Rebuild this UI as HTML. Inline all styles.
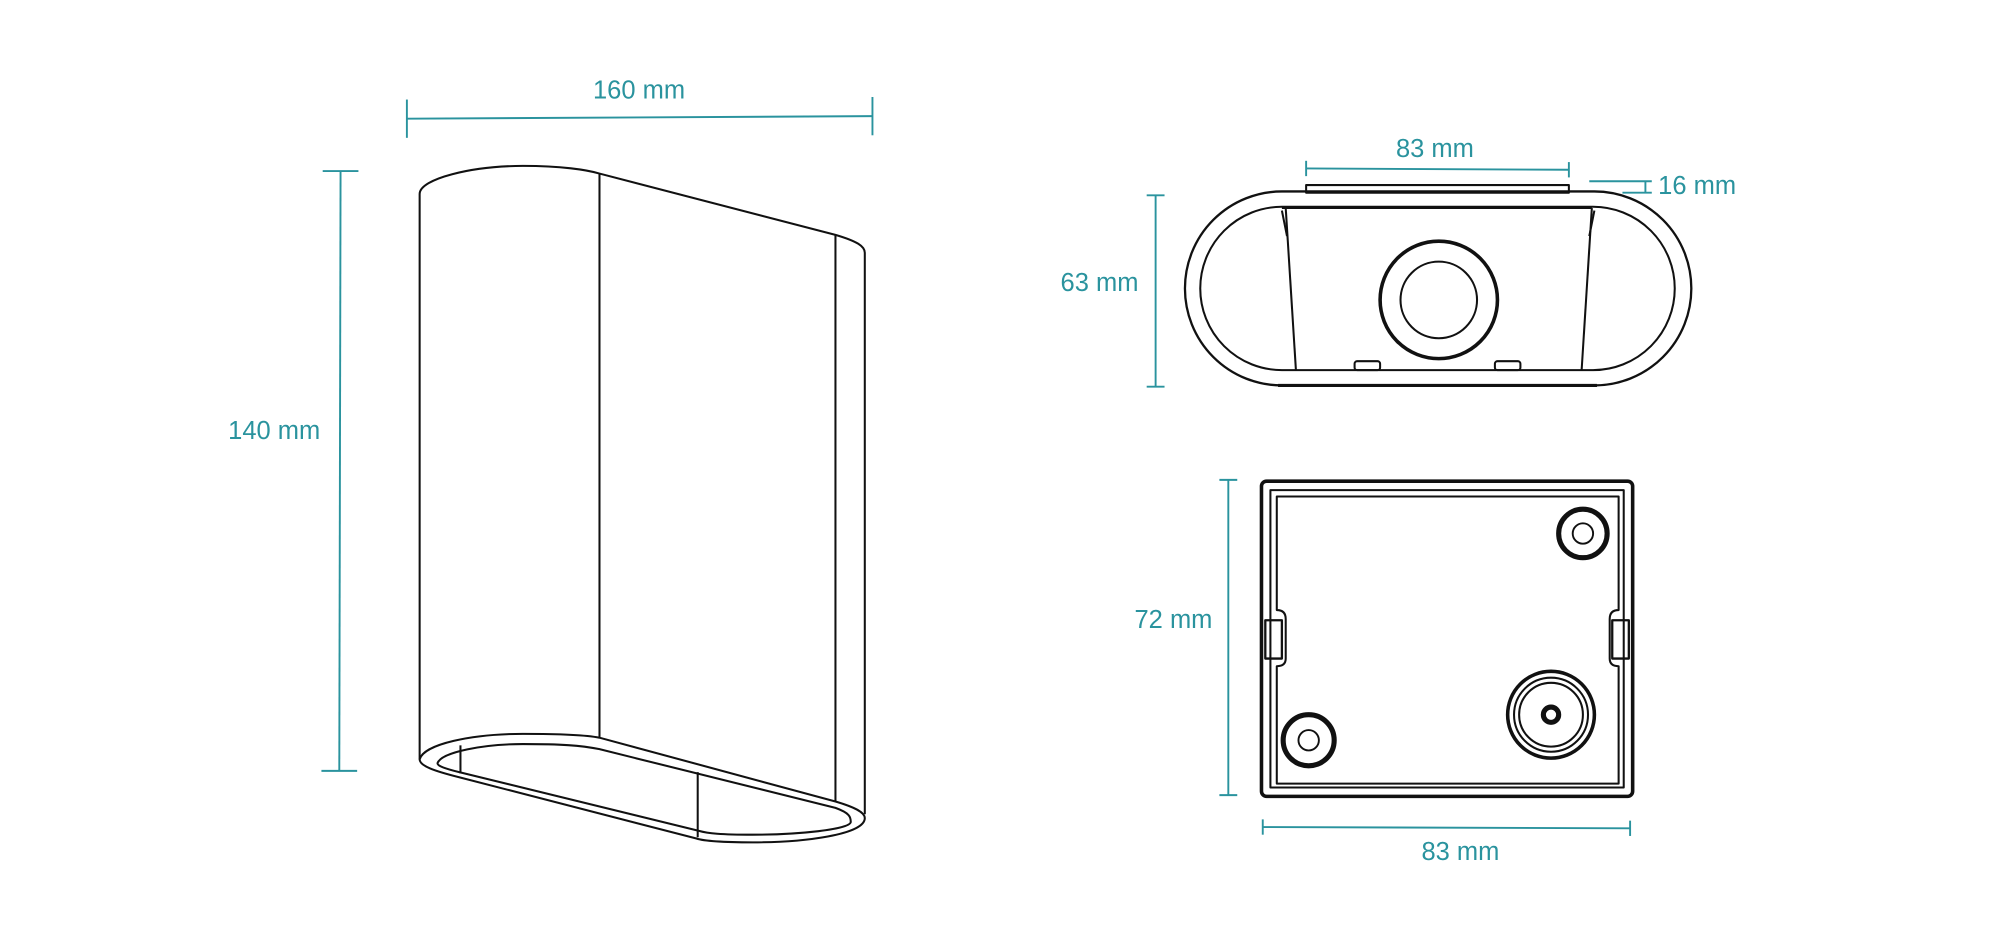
<!DOCTYPE html>
<html><head><meta charset="utf-8"><style>
html,body{margin:0;padding:0;background:#fff;width:2000px;height:947px;overflow:hidden}
svg{display:block}
text{font-family:"Liberation Sans",sans-serif;fill:#2a939e;font-size:20px}
</style></head><body>
<svg width="2000" height="947" viewBox="0 0 1568 742" preserveAspectRatio="none">
<g stroke="#2a939e" stroke-width="1.5" fill="none">
<line x1="319" y1="93" x2="684" y2="91"/><line x1="319" y1="78" x2="319" y2="108"/><line x1="684" y1="76" x2="684" y2="106"/>
<line x1="267" y1="134" x2="266" y2="604"/><line x1="253" y1="134" x2="281" y2="134"/><line x1="252" y1="604" x2="280" y2="604"/>
<line x1="1024" y1="132" x2="1230" y2="133"/><line x1="1024" y1="126" x2="1024" y2="138"/><line x1="1230" y1="127" x2="1230" y2="139"/>
<line x1="1246" y1="142" x2="1295" y2="142"/><line x1="1272" y1="151" x2="1295" y2="151"/><line x1="1290" y1="142" x2="1290" y2="151"/>
<line x1="906" y1="153" x2="906" y2="303"/><line x1="899" y1="153" x2="913" y2="153"/><line x1="899" y1="303" x2="913" y2="303"/>
<line x1="963" y1="376" x2="963" y2="623"/><line x1="956" y1="376" x2="970" y2="376"/><line x1="956" y1="623" x2="970" y2="623"/>
<line x1="990" y1="648" x2="1278" y2="649"/><line x1="990" y1="642" x2="990" y2="654"/><line x1="1278" y1="643" x2="1278" y2="655"/>
</g>
<text x="501" y="77" text-anchor="middle">160 mm</text>
<text x="215" y="344" text-anchor="middle">140 mm</text>
<text x="1125" y="123" text-anchor="middle">83 mm</text>
<text x="1300" y="152">16 mm</text>
<text x="862" y="228" text-anchor="middle">63 mm</text>
<text x="920" y="492" text-anchor="middle">72 mm</text>
<text x="1145" y="674" text-anchor="middle">83 mm</text>

<g stroke="#111" stroke-width="1.6" fill="none" stroke-linejoin="round">
<path d="M329 152 C329 140 370 130 410 130 C440 130 460 133 470 136 L655 184 C672 189 678 193 678 198 L678 638"/>
<path d="M329 152 L329 595"/>
<line x1="470" y1="136" x2="470" y2="578"/>
<line x1="655" y1="184" x2="655" y2="628"/>
<path d="M329 595 C332 583 370 575 410 575 C440 575 460 576 470 578 L655 628 C672 633 678 637 678 641 C678 654 630 660 590 660 C565 660 552 659 546 657 L360 609 C340 604 329 600 329 595 Z"/>
<path d="M343 598 C346 589 380 583 410 583 C440 583 455 584 470 587 L655 633 C666 637 667 640 667 644 C667 650 625 654 590 654 C565 654 555 653 548 651 L360 605 C348 602 343 600 343 598 Z"/>
<line x1="361" y1="584" x2="361" y2="606"/>
<line x1="547" y1="605" x2="547" y2="656"/>
<rect x="929" y="150" width="397" height="152" rx="76" ry="76" stroke-width="1.8"/>
<rect x="941" y="162" width="372" height="128" rx="64" ry="64" stroke-width="1.6"/>
<line x1="1002" y1="302" x2="1252" y2="302" stroke-width="2.5"/>
<rect x="1024" y="145" width="206" height="6"/>
<line x1="1005" y1="163" x2="1248" y2="163"/>
<line x1="1008" y1="163" x2="1016" y2="290"/>
<line x1="1248" y1="163" x2="1240" y2="290"/>
<path d="M1005 165 L1009 185 M1250 165 L1246 185"/>
<circle cx="1128" cy="235" r="46" stroke-width="2.8"/>
<circle cx="1128" cy="235" r="30"/>
<rect x="1062" y="283" width="20" height="7" rx="2"/>
<rect x="1172" y="283" width="20" height="7" rx="2"/>
<rect x="989" y="377" width="291" height="247" rx="4" stroke-width="2.8"/>
<path d="M996 384 L1273 384 L1273 617 L996 617 Z"/>
<path d="M1001 389 L1269 389 L1269 478 Q1262 478 1262 485 L1262 516 Q1262 522 1269 522 L1269 614 L1001 614 L1001 522 Q1008 522 1008 516 L1008 485 Q1008 478 1001 478 Z"/>
<rect x="992" y="486" width="13" height="30" stroke-width="1.8"/>
<rect x="1264" y="486" width="13" height="30" stroke-width="1.8"/>
<circle cx="1241" cy="418" r="19" stroke-width="4"/>
<circle cx="1241" cy="418" r="8" stroke-width="1.5"/>
<circle cx="1026" cy="580" r="20" stroke-width="4"/>
<circle cx="1026" cy="580" r="8" stroke-width="1.5"/>
<circle cx="1216" cy="560" r="34" stroke-width="2.8"/>
<circle cx="1216" cy="560" r="29"/>
<circle cx="1216" cy="560" r="25"/>
<circle cx="1216" cy="560" r="6" stroke-width="4"/>
</g>
</svg>
</body></html>
